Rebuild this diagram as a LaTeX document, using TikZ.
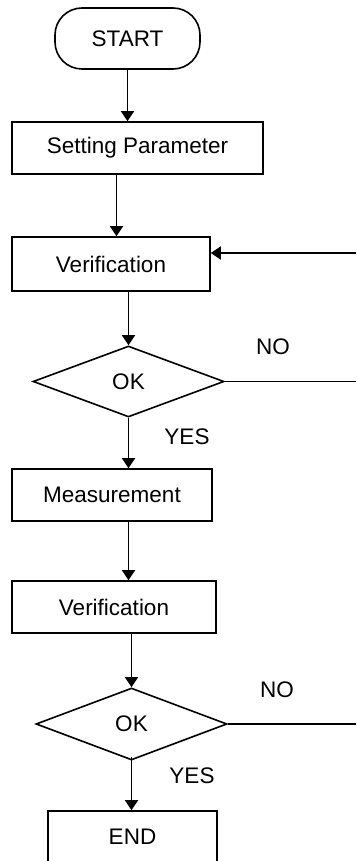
\documentclass[tikz,border=0pt]{standalone}
\usepackage{fontspec}
\setmainfont{Liberation Sans}
\usetikzlibrary{shapes.geometric,arrows.meta}
\begin{document}
\begin{tikzpicture}[x=1pt,y=-1pt,
  every node/.style={font=\fontsize{22.5}{27}\selectfont},
  base/.style={draw=black,line width=1.6pt,inner sep=0pt,anchor=center},
  box/.style={base,rectangle},
  term/.style={base,rectangle,rounded corners=27pt},
  dec/.style={base,diamond},
  lbl/.style={inner sep=0pt},
  conn/.style={line width=1.6pt},
  arr/.style={conn,-{Triangle[width=13pt,length=10pt]}}
]
\useasboundingbox (0,0) rectangle (356,861);
\clip (0,0) rectangle (356,861);
\node[term,minimum width=145pt,minimum height=61pt] (start) at (127.5,38.5) {START};
\node[box,minimum width=251pt,minimum height=52pt] (set) at (137.5,148) {Setting Parameter};
\node[box,minimum width=198pt,minimum height=54pt] (ver1) at (111,264) {Verification};
\node[dec,minimum width=191pt,minimum height=71pt,aspect=2.69] (ok1) at (128.5,381.5) {OK};
\node[box,minimum width=200pt,minimum height=52pt] (meas) at (112,495) {Measurement};
\node[box,minimum width=204pt,minimum height=52pt] (ver2) at (114,607) {Verification};
\node[dec,minimum width=191pt,minimum height=72pt,aspect=2.65] (ok2) at (131.5,724) {OK};
\node[box,minimum width=169pt,minimum height=58pt] (end) at (132.5,840) {\raisebox{7pt}{END}};
\coordinate (r0) at (356,253);
\coordinate (r1) at (356,381.5);
\coordinate (r2) at (356,724);
\coordinate (x1) at (116.5,0);
\node[lbl] (no1) at (273,347) {NO};
\node[lbl] (yes1) at (187,437) {YES};
\node[lbl] (no2) at (277,690) {NO};
\node[lbl] (yes2) at (192,776) {YES};
\draw[arr] (start.south) -- (set.north -| start.south);
\draw[arr] (set.south -| x1) -- (ver1.north -| x1);
\draw[arr] (ver1.south -| ok1.north) -- (ok1.north);
\draw[arr] (r0) -- (ver1.east |- r0);
\draw[conn] (ok1.east) -- (r1);
\draw[arr] (ok1.south) -- (meas.north -| ok1.south);
\draw[arr] (meas.south -| ok1.south) -- (ver2.north -| ok1.south);
\draw[arr] (ver2.south -| ok2.north) -- (ok2.north);
\draw[conn] (ok2.east) -- (r2);
\draw[arr] ([yshift=4pt]ok2.south) -- (end.north -| ok2.south);
\end{tikzpicture}
\end{document}
